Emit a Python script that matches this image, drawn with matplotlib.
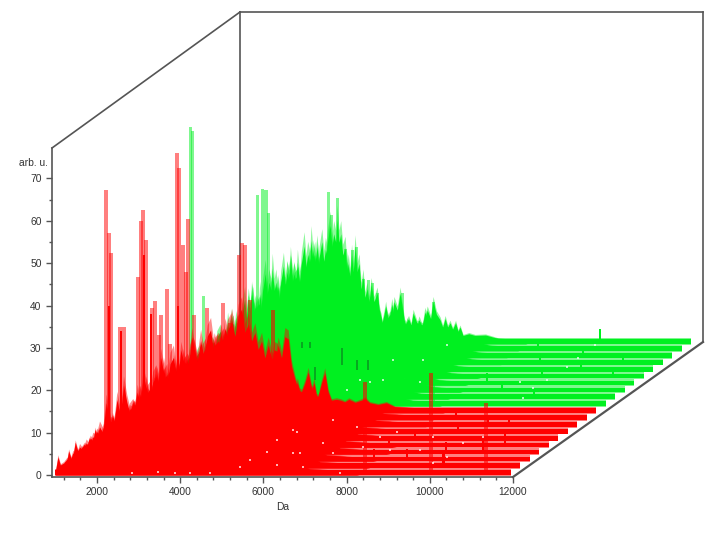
import matplotlib
matplotlib.use("Agg")
import matplotlib.pyplot as plt
import numpy as np

plt.rcParams['font.family'] = ['Liberation Sans', 'DejaVu Sans']

# common envelope of the spectra
red_da = [1000,1060,1120,1200,1280,1340,1420,1500,1580,1660,1740,1820,1900,1980,2060,2140,2220,2300,2380,2460,2540,2620,2700,2780,2860,2940,3020,3100,3180,3260,3340,3420,3500,3580,3660,3740,3820,3900,3980,4060,4140,4220,4300,4380,4460,4540,4620,4700,4780,4860,4940,5020,5100,5180,5260,5340,5420,5500,5580,5700,5800,5900,6000,6150,6300,6390,6500,6700,6900,7100,7400,7700,8000,8300]
red_h = [1,4.5,2.5,3,4,3.2,5.5,4.6,7,6,8,7,9.5,9,12,10.5,18,14,11,13,10.5,16,13,16,17,15,20,17,22,18,23,24.5,19,21,17,19,15,17,13,16,13,12,16,13,18,17.5,11,8,5.5,5,7,9.6,6,4,4,7,9.5,5,3,3.2,3,2.6,3.2,2.5,3,3.4,2.4,2,2.4,1.5,1.3,1,.6,0]

green_da = [1000,1100,1200,1300,1400,1500,1600,1700,1800,1880,1950,2030,2100,2182,2240,2300,2350,2400,2495,2550,2600,2650,2700,2750,2800,2855,2900,2950,3000,3050,3100,3143,3200,3264,3310,3350,3400,3432,3480,3520,3570,3624,3670,3700,3740,3780,3820,3865,3910,3960,4010,4057,4100,4150,4200,4250,4320,4394,4450,4514,4560,4600,4650,4700,4750,4800,4880,4947,5010,5067,5150,5210,5260,5350,5476,5540,5600,5680,5740,5820,5908,5970,6030,6090,6148,6210,6280,6340,6388,6460,6600,6750,7000,7300,7600,8000]
green_h = [1,2.2,3,2,8,5,6,4,10,7,9,7,13,14.4,10,11,9,15,16.3,11,13,10,18,14,16,22,19,23,17,18,15,17.5,24,28,23,26,24,29.3,24,26,21,22.7,17,19,16,21,17,23,17,19,13,15.8,11,13,10,14,10,12,8,5,7,9,6,7,6,10,8,12,8,4.5,6,4.5,7.3,5,4.5,6,8,6,10,7,5.7,4,6,4,5,3.5,5,3,4,2,2.4,2,2.1,1.3,1,0]

# per-spectrum intensity and small mass shift (front to back)
red_gain = [0.95,0.9,1.0,0.82,0.95,0.88,1.0,0.85,0.92,1.0]
red_shift = [0,30,-40,60,-20,40,-60,20,-30,0]
green_gain = [0.9,0.85,1.0,0.8,0.95,0.88,1.0,0.84,0.92,1.0]
green_shift = [0,-30,40,-50,20,-40,60,-20,30,0]

# tall peaks, above layer 0 (red) and layer 10 (green)
red_peak_da = [2218,2290,2338,2555,2650,2988,3060,3108,3180,3324,3396,3490,3540,3685,3757,3925,3973,4069,4141,4190,4334,4646,5031,5200,5416,5488,5560,5680]
red_peak_h = [67.3,57.1,52.4,35,35,46.7,60,62.6,55.5,39.5,41,33,37.8,44,31,76,72.5,54.3,48,60.4,37.8,39.5,40.6,36,52,54.8,54.3,41.3]
red_core_da = [2290,2570,3132,3300,3950]
red_core_h = [40,34,52,38,40]
green_peak_da = [1954,2002,2266,3565,3685,3780,3829,5272,5344,5488,5680,5848,5944,6113,6233,6329,6449,7050,7795]
green_peak_h = [65.9,65,26,49.8,51.2,51,45.6,50.5,45,49,37,36.8,37.5,30,29.7,29,26.7,26.7,24.6]

# isolated peaks rising from the front of the red floor
red_iso_da = [6233,8440,10030,11350]
red_iso_h = [39,22,24,17]

# small peaks of single spectra: layer, mass, height
tail_layer = [2,3,1,3,4,2,5,6,7,8,7,4,12,14,15,13,16,17,18,11,14,16,19]
tail_da = [9000,9700,10100,10600,10900,8200,8500,9300,9800,8800,10300,8100,9000,9500,10200,8400,9000,9800,8500,10000,11200,11000,9750]
tail_h = [3,3,4,3.5,4,3,2.5,2.5,2.5,2.5,2.5,2.5,2.5,2.5,2.5,3,2.5,2.5,2.5,2.5,2.5,2.5,3.6]

# dark streaks inside the green mass
dark_da = [6927,7120,7240,7890,8250,8515]
dark_lo = [30,30,22.5,26,24.8,24.8]
dark_hi = [31.5,31.5,25.5,30,27.1,27.1]

# empty flecks between the spectra
gap_da = [5437,5678,6087,6327,6712,6327,6712,6880,6808,7433,7673,8250,8803,9212,10077,10077,10798,11279,6952,7673,8394,9044,9765,10414,7842,2841,3466,3875,4236,4716,8322,8563,8875,9765,9116,9837,10414,8010,12241,12481,12818,13299,13563,13972,12169]
gap_h = [1.9,3.5,5.4,8.3,10.6,2.4,5.2,5.2,10.2,7.6,13,11.3,9,10.2,9,2.8,7.6,9,1.9,5.2,6.6,5.9,5.9,4.2,.5,.5,.7,.5,.5,.5,22.4,22,22.4,22,27.1,27.1,30.7,20,18.2,20.5,22.4,25.5,27.6,30.7,22]

x_major = [2000,4000,6000,8000,10000,12000]
y_major = [0,10,20,30,40,50,60,70]
x_label = 'Da'
y_label = 'arb. u.'

RED = '#ff0000'
GREEN = '#00f020'
GREY = '#555555'
PX_X = 0.0416
PX_Y = 4.236
DX = 9.5 / PX_X
DY = 6.9 / PX_Y
N_LAYERS = 20
X0, X1 = 918, 12000
Y0, Y1 = -0.47, 77.2
DEPTH_XL, DEPTH_X, DEPTH_YT, DEPTH_Y = 188 / PX_X, 190 / PX_X, 136 / PX_Y, 135 / PX_Y

fig = plt.figure(figsize=(7.2, 5.33), dpi=100)
ax = fig.add_axes([52/720, (533-477)/533, 461/720, 329/533])
ax.set_xlim(X0, X1)
ax.set_ylim(Y0, Y1)
ax.patch.set_alpha(0)

# box
fc = dict(color=GREY, lw=1.2, clip_on=False, zorder=1)
ax.plot([X0, X0+DEPTH_XL], [Y1, Y1+DEPTH_YT], **fc)
ax.plot([X0+DEPTH_XL, X1+DEPTH_X], [Y1+DEPTH_YT, Y1+DEPTH_YT], **fc)
ax.plot([X0+DEPTH_XL, X0+DEPTH_XL], [Y0+DEPTH_Y, Y1+DEPTH_YT], **fc)
ax.plot([X1+DEPTH_X, X1+DEPTH_X], [Y0+DEPTH_Y, Y1+DEPTH_YT], **fc)
ax.plot([X1, X1+DEPTH_X], [Y0, Y0+DEPTH_Y], color=GREY, lw=1.6, clip_on=False, zorder=1)

rd, rh = np.array(red_da, float), np.array(red_h, float)
gd, gh = np.array(green_da, float), np.array(green_h, float)
tl, td, th = np.array(tail_layer), np.array(tail_da, float), np.array(tail_h, float)
z = 2
for i in range(N_LAYERS-1, -1, -1):
    is_red = i < 10
    col = RED if is_red else GREEN
    d, h = (rd, rh) if is_red else (gd, gh)
    k = i if is_red else i-10
    gain = (red_gain if is_red else green_gain)[k]
    shift = (red_shift if is_red else green_shift)[k]
    ox, oy = i*DX, i*DY
    lift = np.where(d < 6500, gain, 1.0)
    ax.fill_between([1000+ox, 11950+ox], oy-0.2, oy+DY-0.2, color=col, alpha=0.5, lw=0, clip_on=False, zorder=z)
    z += 1
    ax.fill_between(d+ox+shift, oy, oy+h*lift*1.12, color=col, alpha=0.45, lw=0, clip_on=False, zorder=z)
    z += 1
    ax.fill_between(d+ox+shift, oy, oy+h*lift, color=col, lw=0, clip_on=False, zorder=z)
    z += 1
    ax.fill_between([1000+ox, 11950+ox], oy, oy+1.1, color=col, lw=0, clip_on=False, zorder=z)
    z += 1
    m = tl == i
    if m.any():
        ax.bar(td[m]+ox, th[m], width=50, bottom=oy, color=col, lw=0, clip_on=False, zorder=z)
        z += 1
    if i == 10:
        ax.bar(np.array(green_peak_da)+ox, np.array(green_peak_h), width=75, bottom=oy, color=GREEN, alpha=0.5, lw=0, clip_on=False, zorder=z)
        z += 1
        ax.bar(dark_da, np.array(dark_hi)-np.array(dark_lo), bottom=dark_lo, width=70, color='#0a8a20', alpha=0.7, lw=0, clip_on=False, zorder=z)
        z += 1
ax.bar(red_peak_da, red_peak_h, width=85, color=RED, alpha=0.5, lw=0, clip_on=False, zorder=z)
ax.bar(red_core_da, red_core_h, width=40, color=RED, lw=0, clip_on=False, zorder=z)
ax.bar(red_iso_da, red_iso_h, width=80, color=RED, alpha=0.6, lw=0, clip_on=False, zorder=z)
ax.scatter(gap_da, gap_h, s=3, marker='s', color='white', alpha=0.7, lw=0, clip_on=False, zorder=z+1)

for s in ('top', 'right'):
    ax.spines[s].set_visible(False)
for s in ('left', 'bottom'):
    ax.spines[s].set_color(GREY)
    ax.spines[s].set_linewidth(1.2)
    ax.spines[s].set_zorder(z+2)
ax.set_xticks(x_major)
ax.set_xticks(np.arange(1200, 12000, 400), minor=True)
ax.set_yticks(y_major)
ax.set_yticks(np.arange(5, 75, 10), minor=True)
ax.tick_params(which='major', length=4, width=1, color=GREY, labelsize=7.4, labelcolor='#333333', pad=3.5)
ax.tick_params(which='minor', length=2, width=1, color=GREY)
ax.set_xlabel(x_label, fontsize=7.4, color='#333333', labelpad=3)
ax.text(-0.008, 0.955, y_label, transform=ax.transAxes, ha='right', va='center', fontsize=7.4, color='#333333')

fig.savefig('out.png', dpi=100)
